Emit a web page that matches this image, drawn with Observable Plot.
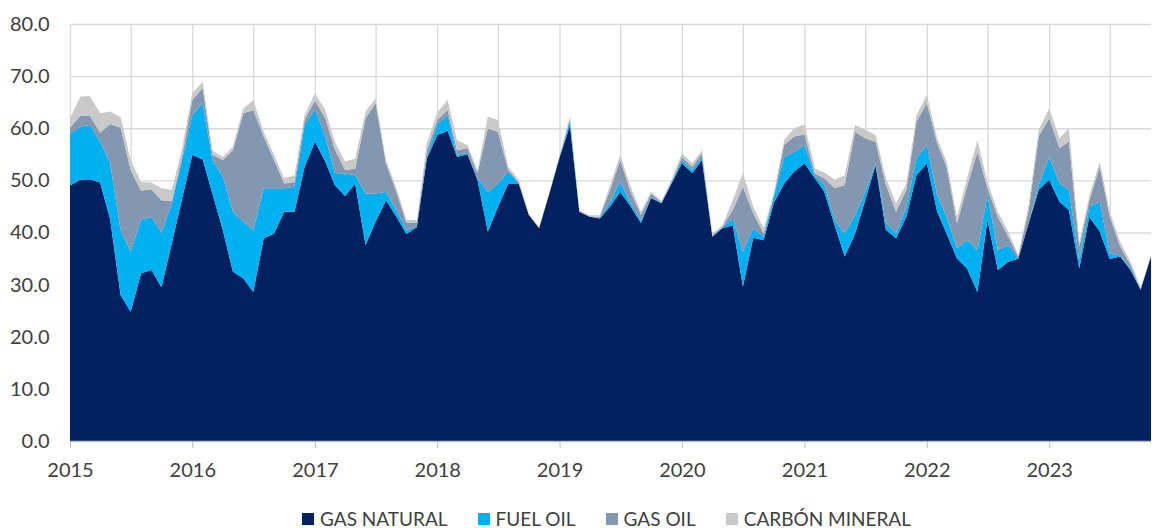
<!DOCTYPE html>
<html>
<head>
<meta charset="utf-8">
<script src="https://cdn.jsdelivr.net/npm/d3@7"></script>
<script src="https://cdn.jsdelivr.net/npm/@observablehq/plot@0.6"></script>
<style>
  body { margin: 0; background: #fff; font-family: "Lato", "Open Sans", sans-serif; overflow: hidden; }
  #chart svg { display: block; }
  #legend { display: flex; justify-content: center; align-items: center; gap: 30px;
            height: 22px; line-height: 22px; padding-top: 8px; font-size: 19px; color: #404040;
            padding-left: 61px; }
  #legend .item { display: flex; align-items: center; gap: 6px; }
  #legend .sw { width: 12px; height: 12px; display: inline-block; }
</style>
</head>
<body>
<div id="chart"></div>
<div id="legend"></div>
<script>
// Monthly values, Jan 2015 – Nov 2023
const seriesNames = ["GAS NATURAL", "FUEL OIL", "GAS OIL", "CARBÓN MINERAL"];
const seriesColors = ["#002060", "#00B0F0", "#8497B0", "#C9C9C9"];
const yearLabels = ["2015","2016","2017","2018","2019","2020","2021","2022","2023"];
const yTickValues = [0, 10, 20, 30, 40, 50, 60, 70, 80];

const gasNatural = [
  49.0, 50.1, 50.2, 49.6, 42.5, 28.0, 24.8, 32.2, 32.8, 29.5, 38.0, 46.4,
  54.9, 54.0, 47.5, 40.5, 32.5, 31.2, 28.6, 38.9, 39.8, 44.0, 44.0, 52.6,
  57.4, 53.6, 49.1, 47.0, 49.4, 37.6, 42.1, 46.2, 43.0, 39.7, 41.0, 54.2,
  58.7, 59.5, 54.5, 55.0, 50.1, 40.2, 44.9, 49.4, 49.4, 43.4, 40.8, 47.4,
  54.4, 60.5, 44.0, 43.0, 42.7, 45.0, 47.8, 45.0, 41.8, 46.6, 45.6, 49.4,
  53.3, 51.4, 53.9, 39.2, 40.8, 41.4, 29.6, 39.0, 38.5, 45.6, 49.4, 51.7,
  53.3, 50.4, 47.8, 41.4, 35.4, 39.8, 46.2, 52.9, 40.5, 38.9, 43.0, 51.0,
  53.3, 44.0, 39.8, 35.0, 33.1, 28.6, 42.4, 32.8, 34.4, 35.0, 41.8, 48.2,
  50.1, 45.9, 44.3, 33.1, 43.0, 40.2, 34.9, 35.4, 32.8, 29.0, 35.4
];
const fuelOil = [
  10.0, 10.2, 10.4, 7.8, 10.8, 12.5, 11.5, 10.3, 10.2, 10.4, 7.6, 7.5,
  7.6, 10.8, 6.4, 10.2, 11.5, 10.9, 11.9, 9.6, 8.7, 4.5, 4.8, 8.0,
  6.2, 4.8, 2.3, 4.3, 1.6, 9.9, 5.4, 1.6, 1.3, 0.8, 0.2, 0.3,
  2.1, 3.0, 0.4, 0.3, 0.3, 7.6, 4.5, 2.3, 0.1, 0.0, 0.0, 0.0,
  0.1, 1.0, 0.0, 0.0, 0.1, 0.9, 1.9, 0.6, 0.5, 0.2, 0.1, 0.2,
  0.6, 0.6, 0.6, 0.0, 0.2, 1.3, 6.7, 1.8, 0.7, 1.3, 5.1, 3.8,
  3.5, 0.5, 1.3, 1.0, 4.4, 3.6, 1.6, 0.3, 1.3, 0.9, 2.0, 3.2,
  3.5, 3.2, 3.2, 2.0, 5.5, 8.0, 4.8, 3.8, 3.2, 0.0, 0.1, 0.9,
  4.4, 3.5, 3.9, 1.6, 2.0, 5.7, 1.1, 0.2, 0.3, 0.1, 0.1
];
const gasOil = [
  1.1, 2.1, 1.8, 1.8, 7.5, 19.6, 15.7, 5.5, 5.3, 6.3, 0.5, 0.6,
  2.9, 2.9, 1.0, 3.2, 11.8, 20.8, 23.0, 9.9, 5.4, 0.9, 0.9, 1.0,
  1.7, 3.5, 4.6, 0.7, 1.3, 14.4, 17.3, 5.5, 3.5, 1.3, 0.6, 1.3,
  0.8, 1.0, 0.9, 0.9, 1.0, 12.2, 9.9, 0.3, 0.2, 0.0, 0.2, 0.0,
  0.1, 0.3, 0.1, 0.1, 0.2, 2.3, 4.2, 2.2, 1.1, 0.7, 0.1, 0.2,
  0.6, 0.6, 0.7, 0.3, 0.1, 1.6, 12.5, 2.9, 0.6, 0.0, 2.3, 2.9,
  2.0, 0.4, 1.3, 6.1, 9.3, 15.9, 10.3, 4.2, 7.3, 4.2, 3.2, 7.1,
  8.0, 9.9, 9.6, 4.8, 10.2, 18.9, 1.3, 6.4, 1.6, 0.4, 2.4, 9.3,
  7.4, 6.8, 9.2, 2.6, 1.2, 6.7, 7.0, 1.7, 0.7, 0.1, 0.1
];
const carbonMineral = [
  1.8, 3.7, 3.8, 3.7, 2.4, 2.0, 1.9, 1.7, 1.3, 2.3, 2.1, 1.5,
  1.3, 1.2, 0.9, 0.6, 0.7, 0.9, 1.9, 0.9, 1.0, 1.0, 1.3, 0.9,
  1.4, 1.6, 1.4, 1.6, 1.9, 1.3, 0.9, 0.6, 0.7, 0.6, 0.6, 1.3,
  1.4, 1.9, 1.9, 0.6, 0.6, 2.2, 2.3, 0.6, 0.4, 0.3, 0.0, 0.1,
  0.2, 0.5, 0.2, 0.2, 0.3, 0.9, 1.0, 1.0, 0.6, 0.3, 0.3, 0.3,
  0.7, 0.7, 0.6, 0.3, 0.3, 1.9, 2.6, 1.3, 1.0, 0.6, 0.9, 1.6,
  1.9, 1.0, 1.1, 1.6, 1.9, 1.3, 1.6, 1.3, 1.3, 1.6, 1.2, 1.2,
  1.6, 1.0, 1.0, 1.2, 1.6, 2.2, 1.2, 1.0, 1.0, 0.3, 1.0, 1.3,
  1.9, 1.9, 2.6, 0.9, 0.8, 1.0, 1.0, 0.9, 0.6, 0.2, 0.1
];

const seriesValues = [gasNatural, fuelOil, gasOil, carbonMineral];
const dates = gasNatural.map((_, i) => new Date(Date.UTC(2015, i, 1)));
const rows = [];
seriesValues.forEach((vals, s) => vals.forEach((v, i) =>
  rows.push({date: dates[i], series: seriesNames[s], value: v})));

const yearTicks = yearLabels.map(y => new Date(Date.UTC(+y, 0, 1)));
const halfYearGrid = d3.range(0, dates.length, 6).map(m => new Date(Date.UTC(2015, m, 1)));

const chart = Plot.plot({
  width: 1152,
  height: 500,
  marginLeft: 70,
  marginRight: 1,
  marginTop: 24,
  marginBottom: 59,
  style: {fontFamily: "Lato, 'Open Sans', sans-serif", fontSize: "20px", background: "#fff"},
  x: {type: "utc", domain: [dates[0], dates[dates.length - 1]]},
  y: {domain: [0, 80]},
  color: {domain: seriesNames, range: seriesColors},
  marks: [
    Plot.ruleX(halfYearGrid, {stroke: "#d9d9d9", strokeWidth: 1.3}),
    Plot.ruleY(yTickValues.slice(1), {stroke: "#d9d9d9", strokeWidth: 1.3}),
    Plot.areaY(rows, {x: "date", y: "value", fill: "series", order: seriesNames}),
    Plot.ruleY([0], {stroke: "#bfbfbf", strokeWidth: 1.3}),
    Plot.axisX({ticks: yearTicks, tickFormat: (d, i) => yearLabels[i], tickSize: 7, tickPadding: 14,
                stroke: "#bfbfbf", fill: "#404040", label: null}),
    Plot.axisY({ticks: yTickValues, tickFormat: d3.format(".1f"), tickSize: 0, tickPadding: 21,
                fill: "#404040", label: null})
  ]
});
document.getElementById("chart").append(chart);

const legend = document.getElementById("legend");
seriesNames.forEach((name, i) => {
  const item = document.createElement("div");
  item.className = "item";
  const sw = document.createElement("span");
  sw.className = "sw";
  sw.style.background = seriesColors[i];
  const label = document.createElement("span");
  label.textContent = name;
  item.append(sw, label);
  legend.append(item);
});
</script>
</body>
</html>
